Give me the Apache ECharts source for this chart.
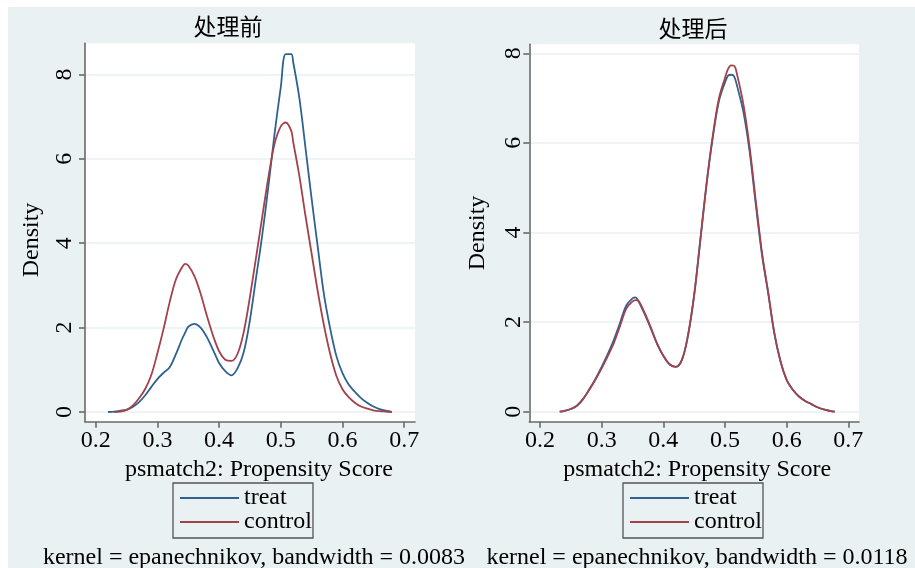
<!DOCTYPE html>
<html>
<head>
<meta charset="utf-8">
<script src="https://cdn.jsdelivr.net/npm/echarts@6/dist/echarts.min.js"></script>
<style>
html,body{margin:0;padding:0;background:#fff;}
#wrap{position:relative;width:915px;height:568px;background:#fff;overflow:hidden;}
#bg{position:absolute;left:8px;top:7px;right:0;bottom:0;background:#e9f1f3;}
#chart{position:absolute;left:0;top:0;width:915px;height:568px;}
</style>
</head>
<body>
<div id="wrap"><div id="bg"></div><div id="chart"></div></div>
<script>
// ---- data ----
const panelTitles = ['处理前', '处理后'];
const footnotes = ['kernel = epanechnikov, bandwidth = 0.0083', 'kernel = epanechnikov, bandwidth = 0.0118'];
const seriesNames = ['treat', 'control'];
const xTicks = [0.2, 0.3, 0.4, 0.5, 0.6, 0.7];
const yTicks = [0, 2, 4, 6, 8];
const xTitle = 'psmatch2: Propensity Score';
const yTitle = 'Density';

const leftX = [0.22,0.23,0.24,0.25,0.26,0.27,0.28,0.29,0.30,0.31,0.32,0.33,0.34,0.345,0.35,0.36,0.37,0.38,0.39,0.40,0.41,0.42,0.43,0.44,0.45,0.46,0.47,0.48,0.49,0.50,0.508,0.517,0.52,0.53,0.54,0.55,0.56,0.57,0.58,0.59,0.60,0.61,0.62,0.63,0.64,0.65,0.66,0.67,0.68];
const leftTreat = [0,0.01,0.03,0.05,0.12,0.23,0.39,0.59,0.78,0.93,1.06,1.37,1.73,1.88,2.02,2.09,2.0,1.78,1.48,1.16,0.97,0.87,1.04,1.42,2.18,3.19,4.2,5.36,6.6,7.7,8.48,8.48,8.3,7.45,6.26,5.05,3.9,2.78,1.98,1.33,0.92,0.65,0.48,0.33,0.22,0.13,0.07,0.03,0.005];
const leftControl = [null,0,0.01,0.05,0.15,0.32,0.54,0.87,1.39,1.97,2.61,3.14,3.43,3.51,3.47,3.22,2.81,2.29,1.82,1.44,1.24,1.21,1.38,1.9,2.73,3.67,4.63,5.57,6.36,6.77,6.86,6.66,6.41,5.6,4.65,3.75,2.85,2.05,1.38,0.86,0.54,0.35,0.22,0.13,0.08,0.04,0.02,0.01,0];

const rightX = [0.232,0.24,0.25,0.26,0.27,0.28,0.29,0.30,0.31,0.32,0.33,0.34,0.35,0.355,0.36,0.37,0.38,0.39,0.40,0.41,0.42,0.43,0.44,0.45,0.46,0.47,0.48,0.49,0.50,0.505,0.51,0.515,0.52,0.53,0.54,0.55,0.56,0.57,0.58,0.59,0.60,0.61,0.62,0.63,0.64,0.65,0.66,0.67,0.678];
const rightTreat = [0,0.02,0.06,0.14,0.29,0.5,0.73,1.0,1.29,1.61,1.99,2.37,2.53,2.55,2.46,2.17,1.85,1.51,1.25,1.06,1.0,1.15,1.7,2.6,3.83,5.06,6.1,6.92,7.35,7.5,7.52,7.48,7.25,6.68,5.8,4.62,3.5,2.65,1.75,1.12,0.71,0.49,0.34,0.24,0.17,0.1,0.05,0.02,0];
const rightControl = [0,0.02,0.06,0.13,0.28,0.49,0.72,0.97,1.24,1.54,1.92,2.3,2.46,2.49,2.47,2.2,1.87,1.52,1.25,1.06,1.0,1.15,1.7,2.6,3.83,5.08,6.14,6.98,7.45,7.65,7.73,7.72,7.5,6.85,5.9,4.7,3.55,2.67,1.76,1.13,0.71,0.49,0.34,0.24,0.17,0.1,0.05,0.02,0];

// ---- style ----
const SERIF = 'Liberation Serif, Times New Roman, serif';
const CJK = 'Noto Sans CJK SC, sans-serif';
const TREAT_COLOR = '#2f6290';
const CONTROL_COLOR = '#a2434b';
const AXIS_COLOR = '#6a6a6a';
const GRID_LINE = '#e9f1f3';

function pairs(xs, ys) { return xs.map((x, i) => [x, ys[i]]); }

function xAxisCfg(gi, min, max, namePad) {
  return {
    gridIndex: gi, type: 'value', min: min, max: max,
    axisLine: { show: true, onZero: false, lineStyle: { color: AXIS_COLOR, width: 1.6 } },
    axisTick: { show: true, length: 6, customValues: xTicks, lineStyle: { color: AXIS_COLOR, width: 1.6 } },
    axisLabel: { customValues: xTicks, margin: 7, fontFamily: SERIF, fontSize: 24, color: '#000' },
    splitLine: { show: false },
    name: xTitle, nameLocation: 'middle', nameGap: 30,
    nameTextStyle: { fontFamily: SERIF, fontSize: 24, color: '#000', padding: namePad }
  };
}
function yAxisCfg(gi, min, max, margin, nameGap, namePad) {
  return {
    gridIndex: gi, type: 'value', min: min, max: max,
    axisLine: { show: true, onZero: false, lineStyle: { color: AXIS_COLOR, width: 1.6 } },
    axisTick: { show: true, length: 6, customValues: yTicks, lineStyle: { color: AXIS_COLOR, width: 1.6 } },
    axisLabel: { customValues: yTicks, rotate: 90, margin: margin, fontFamily: SERIF, fontSize: 24, color: '#000' },
    splitLine: { show: true, lineStyle: { color: GRID_LINE, width: 1.6 } },
    name: yTitle, nameLocation: 'middle', nameGap: nameGap, nameRotate: 90,
    nameTextStyle: { fontFamily: SERIF, fontSize: 24, color: '#000', padding: namePad }
  };
}
function lineSeries(name, xi, data, color) {
  return {
    name: name, type: 'line', xAxisIndex: xi, yAxisIndex: xi, data: data,
    showSymbol: false, symbol: 'none', smooth: 0.35, connectNulls: false,
    lineStyle: { color: color, width: 1.8 }, itemStyle: { color: color },
    emphasis: { disabled: true }, animation: false
  };
}
function legendCfg(left) {
  return {
    data: seriesNames, orient: 'vertical', left: left, top: 483,
    icon: 'rect', itemWidth: 59, itemHeight: 2, itemGap: 0,
    padding: [3, 1, 4, 7],
    borderColor: '#555', borderWidth: 1.3, backgroundColor: 'transparent',
    selectedMode: false,
    textStyle: { fontFamily: SERIF, fontSize: 24, color: '#000', lineHeight: 22 }
  };
}

const chart = echarts.init(document.getElementById('chart'), null, { renderer: 'canvas' });
chart.setOption({
  backgroundColor: 'transparent',
  animation: false,
  title: [
    { text: panelTitles[0], left: 223, top: 10, textAlign: 'center', textStyle: { fontFamily: CJK, fontSize: 23, fontWeight: 'normal', color: '#000' } },
    { text: panelTitles[1], left: 688, top: 12, textAlign: 'center', textStyle: { fontFamily: CJK, fontSize: 23, fontWeight: 'normal', color: '#000' } },
    { text: footnotes[0], left: 249, top: 541, textAlign: 'center', textStyle: { fontFamily: SERIF, fontSize: 24, fontWeight: 'normal', color: '#000' } },
    { text: footnotes[1], left: 692, top: 541, textAlign: 'center', textStyle: { fontFamily: SERIF, fontSize: 24, fontWeight: 'normal', color: '#000' } }
  ],
  legend: [legendCfg(173), legendCfg(623)],
  grid: [
    { left: 85, top: 43.3, width: 330, height: 378.4, show: true, backgroundColor: '#fff', borderWidth: 0 },
    { left: 529.3, top: 44.3, width: 329.7, height: 377.4, show: true, backgroundColor: '#fff', borderWidth: 0 }
  ],
  xAxis: [xAxisCfg(0, 0.1827, 0.7175, [0, 0, 0, 18]), xAxisCfg(1, 0.1827, 0.7173, [0, 0, 0, 6])],
  yAxis: [yAxisCfg(0, -0.23, 8.737, 8, 41, [0, 15, 0, 0]), yAxisCfg(1, -0.223, 8.2, 4, 40, [0, 0, 0, 0])],
  series: [
    lineSeries(seriesNames[0], 0, pairs(leftX, leftTreat), TREAT_COLOR),
    lineSeries(seriesNames[1], 0, pairs(leftX, leftControl), CONTROL_COLOR),
    lineSeries(seriesNames[0], 1, pairs(rightX, rightTreat), TREAT_COLOR),
    lineSeries(seriesNames[1], 1, pairs(rightX, rightControl), CONTROL_COLOR)
  ]
});
</script>
</body>
</html>
